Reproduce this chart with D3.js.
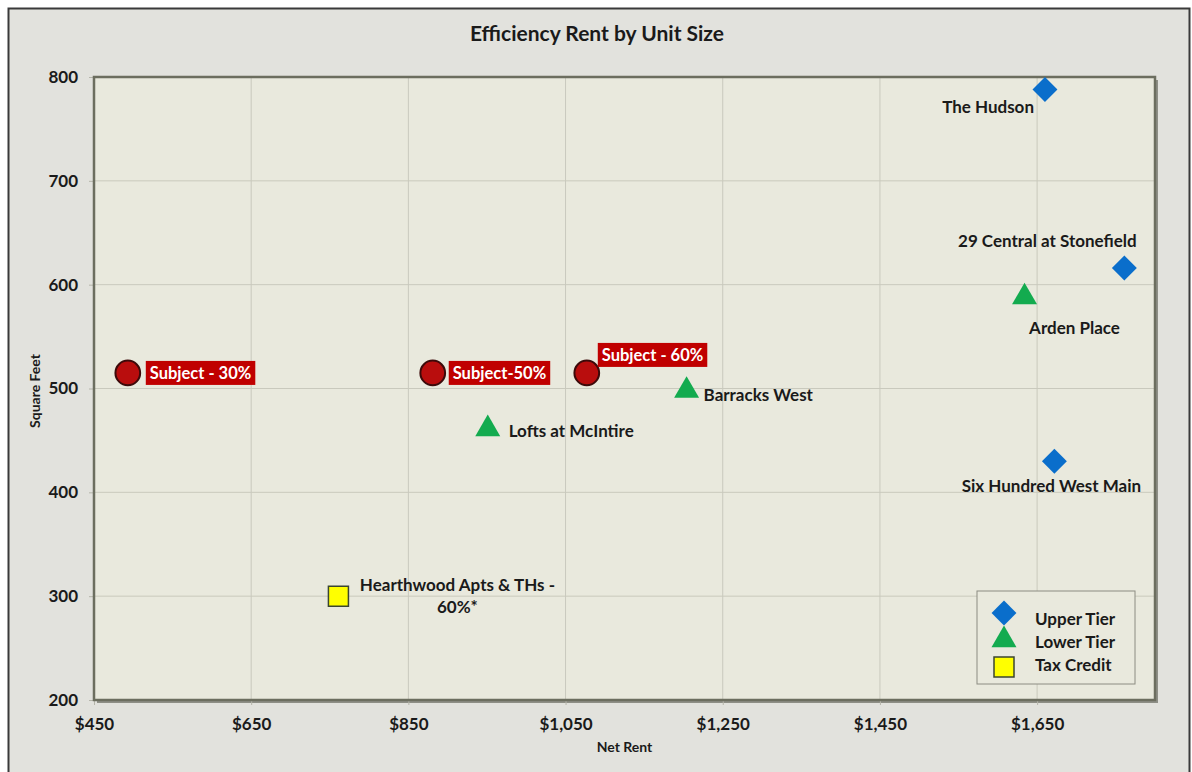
<!DOCTYPE html>
<html>
<head>
<meta charset="utf-8">
<script src="https://cdn.jsdelivr.net/npm/d3@7"></script>
<style>
  body { margin: 0; background: #ffffff; }
  text { font-family: Lato, "Open Sans", sans-serif; }
</style>
</head>
<body>
<div id="chart"></div>
<script>
var width = 1192;
var height = 772;

// data
var names = ["The Hudson", "29 Central at Stonefield", "Six Hundred West Main",
             "Arden Place", "Barracks West", "Lofts at McIntire",
             "Hearthwood Apts & THs -|60%*",
             "Subject - 30%", "Subject-50%", "Subject - 60%"];
var groups = ["upper", "upper", "upper",
              "lower", "lower", "lower",
              "tax",
              "subject", "subject", "subject"];
var rents = [1660, 1761, 1672, 1634, 1204, 951, 761, 493, 881, 1077];
var sqft  = [788, 616, 430, 588, 498, 461, 300, 515, 515, 515];

var xTicks = [450, 650, 850, 1050, 1250, 1450, 1650];
var yTicks = [200, 300, 400, 500, 600, 700, 800];

var legendNames = ["Upper Tier", "Lower Tier", "Tax Credit"];
var legendGroups = ["upper", "lower", "tax"];

// label placement (offset from marker, anchor)
var labelPos = {
  "The Hudson": [-11, 24, "end"],
  "29 Central at Stonefield": [-77, -21, "middle"],
  "Six Hundred West Main": [-3, 31, "middle"],
  "Arden Place": [50, 37, "middle"],
  "Barracks West": [17, 10, "start"],
  "Lofts at McIntire": [21, 8, "start"],
  "Hearthwood Apts & THs -|60%*": [119, -5, "middle"],
  "Subject - 30%": [18, 0, "start"],
  "Subject-50%": [16, 0, "start"],
  "Subject - 60%": [11, -18, "start"]
};

var points = names.map(function(n, i) {
  return {name: n, group: groups[i], rent: rents[i], sqft: sqft[i]};
});

var margin = {left: 94, right: 37, top: 77, bottom: 72};

var svg = d3.select('#chart').append('svg')
    .attr('width', width)
    .attr('height', height);

// chart area
svg.append('rect')
    .attr('x', 8.5).attr('y', 8.5)
    .attr('width', 1181).attr('height', 775)
    .attr('fill', '#e2e2dd')
    .attr('stroke', '#3a3a3a')
    .attr('stroke-width', 2);

var x = d3.scaleLinear().domain([450, 1800]).range([margin.left, width - margin.right]);
var y = d3.scaleLinear().domain([200, 800]).range([height - margin.bottom, margin.top]);

var pw = x(1800) - x(450);
var ph = y(200) - y(800);

// shadow + plot background
svg.append('rect')
    .attr('x', x(450) + 3).attr('y', y(800) + 3)
    .attr('width', pw).attr('height', ph)
    .attr('fill', '#8e8f86');
svg.append('rect')
    .attr('x', x(450)).attr('y', y(800))
    .attr('width', pw).attr('height', ph)
    .attr('fill', '#e9e9dd');

// grid
svg.append('g').selectAll('line.gx')
    .data(xTicks.slice(1))
  .enter().append('line')
    .attr('x1', function(d) { return x(d); })
    .attr('x2', function(d) { return x(d); })
    .attr('y1', y(800)).attr('y2', y(200))
    .attr('stroke', '#c9c9bd').attr('stroke-width', 1);
svg.append('g').selectAll('line.gy')
    .data(yTicks.slice(1, -1))
  .enter().append('line')
    .attr('x1', x(450)).attr('x2', x(1800))
    .attr('y1', function(d) { return y(d); })
    .attr('y2', function(d) { return y(d); })
    .attr('stroke', '#c9c9bd').attr('stroke-width', 1);

// axes
var xAxis = d3.axisBottom(x)
    .tickValues(xTicks)
    .tickSize(5)
    .tickFormat(function(d) { return '$' + d3.format(',')(d); });
var yAxis = d3.axisLeft(y)
    .tickValues(yTicks)
    .tickSize(5);

var gx = svg.append('g')
    .attr('transform', 'translate(0,' + y(200) + ')')
    .call(xAxis);
var gy = svg.append('g')
    .attr('transform', 'translate(' + x(450) + ',0)')
    .call(yAxis);

[gx, gy].forEach(function(g) {
  g.select('.domain').remove();
  g.selectAll('.tick line').attr('stroke', '#b5b5aa');
  g.selectAll('.tick text')
    .attr('fill', '#1a1a1a')
    .style('font-size', '17px')
    .style('font-weight', 'bold');
});
gx.selectAll('.tick text').attr('dy', '1.3em');
gy.selectAll('.tick text').attr('x', -16);

// plot border
svg.append('rect')
    .attr('x', x(450)).attr('y', y(800))
    .attr('width', pw).attr('height', ph)
    .attr('fill', 'none')
    .attr('stroke', '#6c6e5f')
    .attr('stroke-width', 2.5);

// titles
svg.append('text')
    .attr('x', 597).attr('y', 41)
    .attr('text-anchor', 'middle')
    .style('font-size', '21px').style('font-weight', 'bold')
    .attr('fill', '#1a1a1a')
    .text('Efficiency Rent by Unit Size');
svg.append('text')
    .attr('x', (x(450) + x(1800)) / 2).attr('y', 752)
    .attr('text-anchor', 'middle')
    .style('font-size', '14px').style('font-weight', 'bold')
    .attr('fill', '#1a1a1a')
    .text('Net Rent');
svg.append('text')
    .attr('transform', 'translate(40,391) rotate(-90)')
    .attr('text-anchor', 'middle')
    .style('font-size', '14px').style('font-weight', 'bold')
    .attr('fill', '#1a1a1a')
    .text('Square Feet');

// markers
var symbolFor = {
  upper: d3.symbol().type(d3.symbolSquare).size(310),
  lower: d3.symbol().type(d3.symbolTriangle).size(270),
  tax: d3.symbol().type(d3.symbolSquare).size(400),
  subject: d3.symbol().type(d3.symbolCircle).size(480)
};
var fillFor = {upper: '#0a6ecb', lower: '#13ab4f', tax: '#ffff00', subject: '#b90d0d'};
var strokeFor = {upper: 'none', lower: 'none', tax: '#3b4630', subject: '#3d0a0a'};
var rotFor = {upper: 45, lower: 0, tax: 0, subject: 0};

function drawMarker(sel, group, cx, cy) {
  sel.append('path')
      .attr('d', symbolFor[group]())
      .attr('transform', 'translate(' + cx + ',' + cy + ') rotate(' + rotFor[group] + ')')
      .attr('fill', fillFor[group])
      .attr('stroke', strokeFor[group])
      .attr('stroke-width', group === 'subject' ? 2 : 1.5);
}

var gm = svg.append('g');
points.forEach(function(p) {
  drawMarker(gm, p.group, x(p.rent), y(p.sqft));
});

// labels
var gl = svg.append('g');
points.forEach(function(p) {
  var lp = labelPos[p.name];
  var lx = x(p.rent) + lp[0];
  var ly = y(p.sqft) + lp[1];
  var lines = p.name.split('|');
  if (p.group === 'subject') {
    var t = gl.append('text')
        .attr('x', lx + 4).attr('y', ly + 6)
        .style('font-size', '16.5px').style('font-weight', 'bold')
        .attr('fill', '#ffffff')
        .text(p.name);
    var bb = t.node().getBBox();
    gl.insert('rect', function() { return t.node(); })
        .attr('x', lx).attr('y', ly - 12)
        .attr('width', bb.width + 8).attr('height', 24)
        .attr('fill', '#c00000');
  } else {
    var tt = gl.append('text')
        .attr('text-anchor', lp[2])
        .style('font-size', '17px').style('font-weight', 'bold')
        .attr('fill', '#1a1a1a');
    lines.forEach(function(l, i) {
      tt.append('tspan')
          .attr('x', lx)
          .attr('y', ly + i * 22)
          .text(l);
    });
  }
});

// legend
var lg = svg.append('g').attr('transform', 'translate(977,591)');
lg.append('rect')
    .attr('width', 158).attr('height', 93)
    .attr('fill', '#e9e9dd')
    .attr('stroke', '#8c8c82').attr('stroke-width', 1);
legendNames.forEach(function(n, i) {
  drawMarker(lg, legendGroups[i], 27, 22 + i * 27);
  lg.append('text')
      .attr('x', 58).attr('y', 34 + i * 23)
      .style('font-size', '17px').style('font-weight', 'bold')
      .attr('fill', '#1a1a1a')
      .text(n);
});
</script>
</body>
</html>
